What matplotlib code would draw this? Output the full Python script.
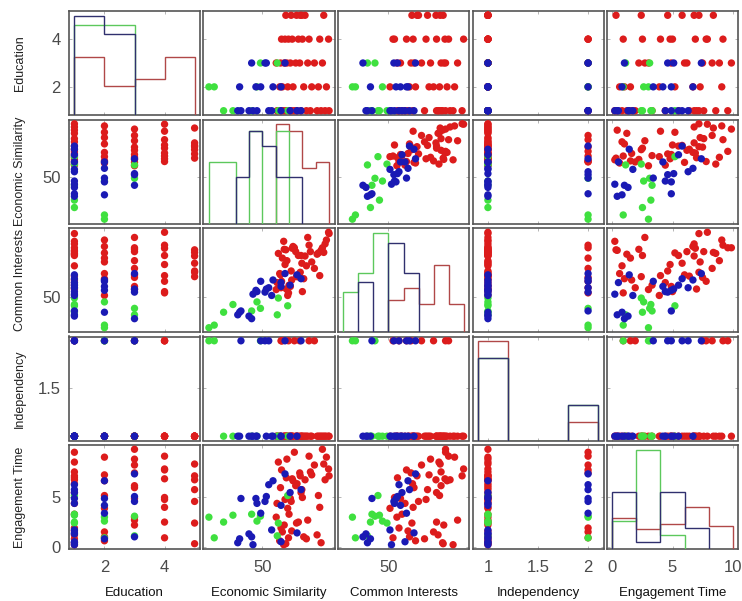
import numpy as np
import matplotlib
matplotlib.use('Agg')
import matplotlib.pyplot as plt

plt.rcParams['font.family'] = ['Liberation Sans', 'DejaVu Sans']

variables = ['Education', 'Economic Similarity', 'Common Interests',
             'Independency', 'Engagement Time']

# ---- group 1 (red) ----
red_education = [1, 1, 1, 1, 1, 1, 1, 1, 1, 1, 1, 1, 1, 1, 1, 1,
                 2, 2, 2, 2, 2, 2, 2, 2,
                 3, 3, 3, 3, 3, 3, 3, 3, 3, 3,
                 4, 4, 4, 4, 4, 4, 4, 4, 4,
                 5, 5, 5, 5, 5, 5, 5]
red_economic = [75.0, 73.5, 72.0, 70.5, 68.0, 66.5, 64.5, 63.0, 62.0, 61.0, 60.0, 59.0, 58.0, 57.0, 56.0, 55.5,
                74.0, 71.0, 68.5, 65.5, 61.5, 59.5, 57.5, 56.5,
                72.5, 69.5, 67.0, 64.0, 62.5, 60.5, 59.2, 58.2, 56.8, 55.2,
                74.8, 71.5, 67.5, 65.0, 63.5, 61.2, 59.8, 58.5, 57.2,
                73.0, 64.2, 66.0, 64.8, 62.8, 60.8, 58.8]
red_common = [74.5, 70.5, 68.0, 66.5, 67.5, 62.0, 66.0, 58.0, 69.0, 56.5, 54.5, 53.0, 71.5, 53.5, 66.8, 55.5,
              72.0, 67.0, 63.5, 57.0, 69.5, 50.5, 65.0, 59.0,
              69.0, 61.0, 73.0, 57.5, 67.5, 54.0, 64.0, 68.4, 58.5, 52.8,
              75.0, 58.2, 70.0, 52.0, 66.0, 68.8, 51.5, 62.5, 56.0,
              67.2, 59.5, 65.8, 63.0, 57.8, 60.0, 68.2]
red_independency = [1, 1, 1, 1, 1, 1, 1, 1, 2, 1, 1, 1, 1, 2, 1, 1,
                    1, 1, 1, 1, 1, 1, 2, 1,
                    1, 2, 1, 2, 1, 1, 1, 1, 1, 1,
                    1, 1, 2, 1, 1, 1, 2, 1, 2,
                    1, 1, 1, 1, 1, 1, 1]
red_engagement = [7.2, 6.8, 0.4, 1.2, 7.6, 0.8, 5.5, 6.4, 9.6, 1.6, 3.3, 7.0, 0.2, 1.9, 8.6, 4.4,
                  9.1, 5.2, 7.3, 1.0, 6.7, 3.9, 1.5, 0.6,
                  9.9, 8.3, 2.7, 7.5, 6.2, 4.9, 8.9, 2.2, 6.0, 3.0,
                  7.9, 4.0, 9.2, 5.0, 2.5, 6.9, 0.9, 4.8, 7.8,
                  8.4, 7.2, 6.8, 5.8, 2.4, 4.6, 0.3]

# ---- group 2 (green) ----
green_education = [2, 1, 1, 1, 1, 2, 1, 2, 3, 3]
green_economic = [30.0, 35.5, 39.0, 56.0, 59.5, 32.0, 46.0, 48.0, 49.3, 55.6]
green_common = [38.0, 44.0, 47.0, 49.5, 46.5, 39.0, 44.5, 48.0, 45.5, 43.0]
green_independency = [2, 1, 1, 1, 1, 2, 1, 1, 2, 1]
green_engagement = [3.0, 2.5, 3.2, 2.4, 5.2, 0.9, 3.3, 2.6, 3.1, 1.1]

# ---- group 3 (blue) ----
blue_education = [1, 1, 1, 1, 1, 1, 1, 1, 1, 1, 1, 2, 2, 2, 2, 2, 3, 3, 3, 3]
blue_economic = [40.8, 42.0, 45.0, 46.5, 48.0, 52.4, 53.5, 57.0, 60.4, 63.0, 64.5,
                 41.5, 47.6, 49.4, 57.0, 54.0, 46.0, 51.5, 51.0, 58.5]
blue_common = [43.0, 44.5, 42.5, 51.0, 52.0, 53.5, 50.5, 55.5, 54.5, 58.5, 57.0,
               44.0, 52.5, 56.0, 54.0, 56.5, 41.5, 53.0, 51.8, 59.0]
blue_independency = [1, 2, 1, 1, 1, 2, 1, 1, 1, 1, 2, 1, 1, 2, 1, 1, 1, 1, 2, 2]
blue_engagement = [0.4, 4.9, 1.3, 0.2, 4.4, 6.3, 1.7, 0.5, 5.5, 1.4, 5.8,
                   0.8, 4.9, 3.4, 4.2, 6.7, 1.0, 5.1, 4.6, 7.4]

bin_widths = [1, 5, 5, 0.3, 2]

groups = [
    (np.array([red_education, red_economic, red_common, red_independency, red_engagement], float),
     '#dc1c1c', '#b04848'),
    (np.array([green_education, green_economic, green_common, green_independency, green_engagement], float),
     '#3fe03f', '#5cc85c'),
    (np.array([blue_education, blue_economic, blue_common, blue_independency, blue_engagement], float),
     '#1a1ab4', '#30306e'),
]

xticks = [[2, 4], [50], [50], [1, 1.5, 2], [0, 5, 10]]
xticklabels = [['2', '4'], ['50'], ['50'], ['1', '1.5', '2'], ['0', '5', '10']]
yticks_lab = [[2, 4], [50], [50], [1.5], [0, 5]]
yticklabels = [['2', '4'], ['50'], ['50'], ['1.5'], ['0', '5']]


def edges_for(values, w):
    lo = np.floor(values.min() / w + 1e-9) * w
    hi = np.ceil(values.max() / w - 1e-9) * w
    n = int(round((hi - lo) / w))
    return lo + w * np.arange(n + 1)


nv = len(variables)
# x limits from histogram edge ranges, y limits from data ranges
xl, yl = [], []
for j in range(nv):
    w = bin_widths[j]
    los, his, dlo, dhi = [], [], [], []
    for data, _, _ in groups:
        e = edges_for(data[j], w)
        los.append(e[0]); his.append(e[-1])
        dlo.append(data[j].min()); dhi.append(data[j].max())
    a, b = min(los), max(his)
    p = 0.045 * (b - a)
    xl.append((a - p, b + p))
    a, b = min(dlo), max(dhi)
    p = 0.045 * (b - a)
    yl.append((a - p, b + p))

W, H = 742, 601
fig = plt.figure(figsize=(W / 100, H / 100), dpi=100)
left0, colstep, pw = 69, 134.5, 131
top0, rowstep, ph = 11, 108.5, 104

tick_col = '#4a4a4a'
for i in range(nv):
    for j in range(nv):
        l = left0 + j * colstep
        t = top0 + i * rowstep
        ax = fig.add_axes([l / W, 1 - (t + ph) / H, pw / W, ph / H])
        ax.set_xlim(xl[j])
        ax.set_ylim(yl[i])
        for s in ax.spines.values():
            s.set_color('#555555')
            s.set_linewidth(1.2)
        ax.set_xticks(xticks[j])
        ax.set_yticks(yticks_lab[i])
        ax.tick_params(direction='in', length=2.5, width=0.6, color='#aaaaaa',
                       top=True, right=True, labelsize=12, labelcolor=tick_col)
        ax.tick_params(axis='x', pad=8)
        ax.tick_params(axis='y', pad=6)
        if i == nv - 1:
            ax.set_xticklabels(xticklabels[j])
        else:
            ax.set_xticklabels([])
        if j == 0:
            ax.set_yticklabels(yticklabels[i])
        else:
            ax.set_yticklabels([])
        if i == j:
            ax2 = ax.twinx()
            ax2.set_xlim(xl[j])
            for s in ax2.spines.values():
                s.set_visible(False)
            ax2.set_yticks([])
            ymax = 0
            for data, _, hcol in groups:
                e = edges_for(data[j], bin_widths[j])
                c, _ = np.histogram(data[j], bins=e)
                frac = c / len(data[j])
                ymax = max(ymax, frac.max())
                ax2.stairs(frac, e, baseline=0, color=hcol, linewidth=1.0)
            ax2.set_ylim(0, ymax * 1.05)
        else:
            for data, col, _ in groups:
                ax.scatter(data[j], data[i], s=28, color=col, edgecolors='none', zorder=3)

for j in range(nv):
    cx = (left0 + j * colstep + pw / 2) / W
    fig.text(cx, 1 - 593 / H, variables[j], ha='center', va='center', fontsize=9.5, color='#111111')
for i in range(nv):
    cy = 1 - (top0 + i * rowstep + ph / 2) / H
    fig.text(20 / W, cy, variables[i], ha='center', va='center', rotation=90,
             fontsize=9, color='#222222')

fig.savefig('out.png', dpi=100, facecolor='white')
